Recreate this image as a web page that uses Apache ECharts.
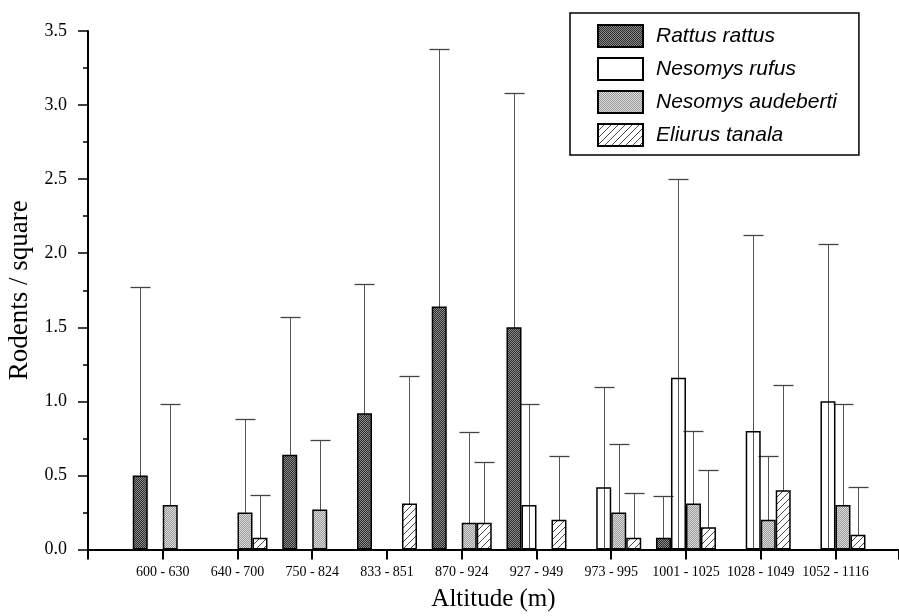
<!DOCTYPE html>
<html>
<head>
<meta charset="utf-8">
<script src="https://cdn.jsdelivr.net/npm/echarts@6/dist/echarts.min.js"></script>
<style>html,body{margin:0;padding:0;background:#fff;}#chart{width:899px;height:616px;}</style>
</head>
<body>
<div id="chart"></div>
<script>
const categories = ['600 - 630', '640 - 700', '750 - 824', '833 - 851', '870 - 924', '927 - 949', '973 - 995', '1001 - 1025', '1028 - 1049', '1052 - 1116'];
const speciesNames = ['Rattus rattus', 'Nesomys rufus', 'Nesomys audeberti', 'Eliurus tanala'];
const rattusMean  = [0.50, null, 0.64, 0.92, 1.64, 1.50, null, 0.08, null, null];
const rattusUpper = [1.77, null, 1.57, 1.79, 3.38, 3.08, null, 0.36, null, null];
const rufusMean   = [null, null, null, null, null, 0.30, 0.42, 1.16, 0.80, 1.00];
const rufusUpper  = [null, null, null, null, null, 0.98, 1.10, 2.50, 2.12, 2.06];
const audebertiMean  = [0.30, 0.25, 0.27, null, 0.18, null, 0.25, 0.31, 0.20, 0.30];
const audebertiUpper = [0.98, 0.88, 0.74, null, 0.79, null, 0.71, 0.80, 0.63, 0.98];
const tanalaMean  = [null, 0.08, null, 0.31, 0.18, 0.20, 0.08, 0.15, 0.40, 0.10];
const tanalaUpper = [null, 0.37, null, 1.17, 0.59, 0.63, 0.38, 0.54, 1.11, 0.42];
const yTicks = ['0.0', '0.5', '1.0', '1.5', '2.0', '2.5', '3.0', '3.5'];

function checker(c1, c2) {
  const cv = document.createElement('canvas');
  cv.width = 2; cv.height = 2;
  const ctx = cv.getContext('2d');
  ctx.fillStyle = c1; ctx.fillRect(0, 0, 2, 2);
  ctx.fillStyle = c2; ctx.fillRect(0, 0, 1, 1); ctx.fillRect(1, 1, 1, 1);
  return cv;
}
function hatch() {
  const s = 7;
  const cv = document.createElement('canvas');
  cv.width = s; cv.height = s;
  const ctx = cv.getContext('2d');
  ctx.fillStyle = '#fff'; ctx.fillRect(0, 0, s, s);
  ctx.strokeStyle = '#333'; ctx.lineWidth = 0.9;
  ctx.beginPath();
  ctx.moveTo(-1, s + 1); ctx.lineTo(s + 1, -1);
  ctx.moveTo(-1, 1); ctx.lineTo(1, -1);
  ctx.moveTo(s - 1, s + 1); ctx.lineTo(s + 1, s - 1);
  ctx.stroke();
  return cv;
}
const fills = [
  { image: checker('#2e2e2e', '#8a8a8a'), repeat: 'repeat' },
  'rgba(255,255,255,0)',
  { image: checker('#9a9a9a', '#dcdcdc'), repeat: 'repeat' },
  { image: hatch(), repeat: 'repeat' }
];
const means = [rattusMean, rufusMean, audebertiMean, tanalaMean];
const uppers = [rattusUpper, rufusUpper, audebertiUpper, tanalaUpper];
const barW = 15;

const series = [];
means.forEach((m, k) => {
  const data = [];
  m.forEach((v, i) => { if (v !== null) data.push([i + 1, v]); });
  series.push({
    name: speciesNames[k], type: 'bar', barWidth: barW, barGap: '0%',
    itemStyle: { color: fills[k], borderColor: '#000', borderWidth: 1.5 },
    data: data, z: 3
  });
});
means.forEach((m, k) => {
  const data = [];
  m.forEach((v, i) => { if (v !== null) data.push([i + 1, v, uppers[k][i]]); });
  const off = (k - 1.5) * barW;
  series.push({
    type: 'custom', z: 2, silent: true,
    renderItem: function (params, api) {
      const x = api.value(0), hi = api.value(2);
      const p0 = api.coord([x, 0]);
      const p1 = api.coord([x, hi]);
      const cx = Math.round(p0[0] + off) + 0.5;
      const ty = Math.round(p1[1]) + 0.5;
      return {
        type: 'group', children: [
          { type: 'line', shape: { x1: cx, y1: p0[1], x2: cx, y2: ty }, style: { stroke: '#555', lineWidth: 1 } },
          { type: 'line', shape: { x1: cx - 10, y1: ty, x2: cx + 10, y2: ty }, style: { stroke: '#444', lineWidth: 1.3 } }
        ]
      };
    },
    data: data
  });
});

const chart = echarts.init(document.getElementById('chart'));
chart.setOption({
  animation: false,
  backgroundColor: '#fff',
  grid: { left: 88, right: 0, top: 31, bottom: 66.5, containLabel: false, outerBoundsMode: 'none' },
  legend: {
    orient: 'vertical', left: 570, top: 13,
    data: speciesNames.map((n, k) => ({ name: n, itemStyle: { color: k === 1 ? '#fff' : fills[k] } })),
    itemWidth: 45, itemHeight: 22, itemGap: 9,
    padding: [11, 22, 8, 27],
    borderColor: '#000', borderWidth: 1.5,
    icon: 'rect',
    textStyle: { fontFamily: 'Liberation Sans', fontStyle: 'italic', fontSize: 21, lineHeight: 22, color: '#000', padding: [0, 0, 0, 8] }
  },
  xAxis: {
    type: 'value', min: 0, max: 10.85, interval: 1,
    name: 'Altitude (m)', nameLocation: 'middle', nameGap: 37,
    nameTextStyle: { fontFamily: 'Liberation Serif', fontSize: 25, color: '#000' },
    axisLine: { lineStyle: { color: '#000', width: 2 } },
    axisTick: { show: true, length: 10, lineStyle: { color: '#000', width: 2 } },
    axisLabel: {
      margin: 16, fontFamily: 'Liberation Serif', fontSize: 14, color: '#000',
      formatter: function (v) { return (v >= 1 && v <= categories.length) ? categories[v - 1] : ''; }
    },
    splitLine: { show: false }
  },
  yAxis: {
    type: 'value', min: 0, max: 3.5, interval: 0.5, offset: 3,
    name: 'Rodents / square', nameLocation: 'middle', nameGap: 40, nameRotate: 90,
    nameTextStyle: { fontFamily: 'Liberation Serif', fontSize: 27, color: '#000' },
    axisLine: { show: true, lineStyle: { color: '#000', width: 2 } },
    axisTick: { show: true, length: 10, lineStyle: { color: '#000', width: 1.5 } },
    minorTick: { show: true, splitNumber: 2, length: 5, lineStyle: { color: '#000', width: 1.5 } },
    axisLabel: {
      margin: 18, fontFamily: 'Liberation Serif', fontSize: 18, color: '#000',
      formatter: function (v) { return yTicks[Math.round(v / 0.5)]; }
    },
    splitLine: { show: false }
  },
  series: series
});
</script>
</body>
</html>
